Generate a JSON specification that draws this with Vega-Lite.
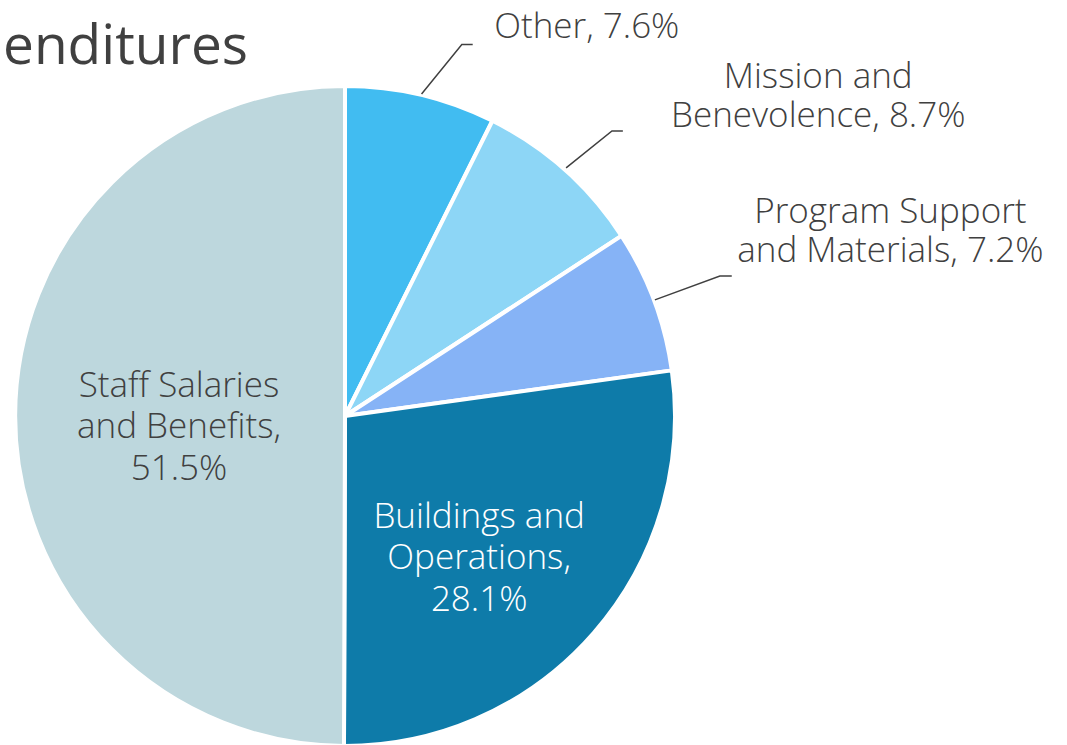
{
  "$schema": "https://vega.github.io/schema/vega-lite/v6.json",
  "width": 660,
  "height": 660,
  "autosize": {"type": "none"},
  "padding": {"left": 15, "top": 86, "right": 392, "bottom": 0},
  "background": "white",
  "config": {"view": {"stroke": null}},
  "title": {"text": "enditures", "anchor": "start", "frame": "group", "font": "Open Sans", "fontSize": 55, "fontWeight": "normal", "color": "#404040", "dx": -12, "offset": -186, "baseline": "alphabetic"},
  "datasets": {
    "expenses": [
      {"category": "Other", "value": 7.6, "rank": 1, "label": ["Other, 7.6%"]},
      {"category": "Mission and Benevolence", "value": 8.7, "rank": 2, "label": ["Mission and", "Benevolence, 8.7%"]},
      {"category": "Program Support and Materials", "value": 7.2, "rank": 3, "label": ["Program Support", "and Materials, 7.2%"]},
      {"category": "Buildings and Operations", "value": 28.1, "rank": 4, "label": ["Buildings and", "Operations,", "28.1%"]},
      {"category": "Staff Salaries and Benefits", "value": 51.5, "rank": 5, "label": ["Staff Salaries", "and Benefits,", "51.5%"]}
    ],
    "leaders": [
      {"seg": "Other", "k": 1, "px": 0.232, "py": 0.976},
      {"seg": "Other", "k": 2, "px": 0.354, "py": 1.126},
      {"seg": "Other", "k": 3, "px": 0.387, "py": 1.126},
      {"seg": "Mission", "k": 1, "px": 0.670, "py": 0.752},
      {"seg": "Mission", "k": 2, "px": 0.809, "py": 0.864},
      {"seg": "Mission", "k": 3, "px": 0.842, "py": 0.864},
      {"seg": "Program", "k": 1, "px": 0.939, "py": 0.352},
      {"seg": "Program", "k": 2, "px": 1.136, "py": 0.424},
      {"seg": "Program", "k": 3, "px": 1.172, "py": 0.424}
    ]
  },
  "layer": [
    {
      "data": {"name": "expenses"},
      "encoding": {
        "theta": {"field": "value", "type": "quantitative", "stack": true},
        "order": {"field": "rank", "type": "quantitative"}
      },
      "layer": [
        {
          "mark": {"type": "arc", "radius": 330, "stroke": "white", "strokeWidth": 4},
          "encoding": {
            "color": {
              "field": "category", "type": "nominal", "legend": null,
              "scale": {
                "domain": ["Other", "Mission and Benevolence", "Program Support and Materials", "Buildings and Operations", "Staff Salaries and Benefits"],
                "range": ["#41BCF1", "#8DD6F6", "#86B3F6", "#0E7BA9", "#BDD7DD"]
              }
            }
          }
        },
        {
          "mark": {"type": "text", "radius": 400, "dx": 150, "dy": 0, "font": "Open Sans", "fontSize": 35, "fontWeight": 300, "fill": "#404040", "lineHeight": 39},
          "encoding": {"text": {"condition": {"test": "datum.category === 'Other'", "field": "label"}, "value": ""}}
        },
        {
          "mark": {"type": "text", "radius": 430, "dx": 187, "dy": -18, "font": "Open Sans", "fontSize": 35, "fontWeight": 300, "fill": "#404040", "lineHeight": 39},
          "encoding": {"text": {"condition": {"test": "datum.category === 'Mission and Benevolence'", "field": "label"}, "value": ""}}
        },
        {
          "mark": {"type": "text", "radius": 420, "dx": 152, "dy": -57, "font": "Open Sans", "fontSize": 35, "fontWeight": 300, "fill": "#404040", "lineHeight": 39},
          "encoding": {"text": {"condition": {"test": "datum.category === 'Program Support and Materials'", "field": "label"}, "value": ""}}
        },
        {
          "mark": {"type": "text", "radius": 190, "dx": -9, "dy": -24, "font": "Open Sans", "fontSize": 35, "fontWeight": 300, "fill": "white", "lineHeight": 41.5},
          "encoding": {"text": {"condition": {"test": "datum.category === 'Buildings and Operations'", "field": "label"}, "value": ""}}
        },
        {
          "mark": {"type": "text", "radius": 166, "dx": 0, "dy": -30, "font": "Open Sans", "fontSize": 35, "fontWeight": 300, "fill": "#404040", "lineHeight": 41.5},
          "encoding": {"text": {"condition": {"test": "datum.category === 'Staff Salaries and Benefits'", "field": "label"}, "value": ""}}
        }
      ]
    },
    {
      "data": {"name": "leaders"},
      "mark": {"type": "line", "color": "#404040", "strokeWidth": 1.5},
      "encoding": {
        "x": {"field": "px", "type": "quantitative", "axis": null, "scale": {"domain": [-1, 1], "nice": false, "zero": false}},
        "y": {"field": "py", "type": "quantitative", "axis": null, "scale": {"domain": [-1, 1], "nice": false, "zero": false}},
        "detail": {"field": "seg", "type": "nominal"},
        "order": {"field": "k", "type": "quantitative"}
      }
    }
  ]
}
